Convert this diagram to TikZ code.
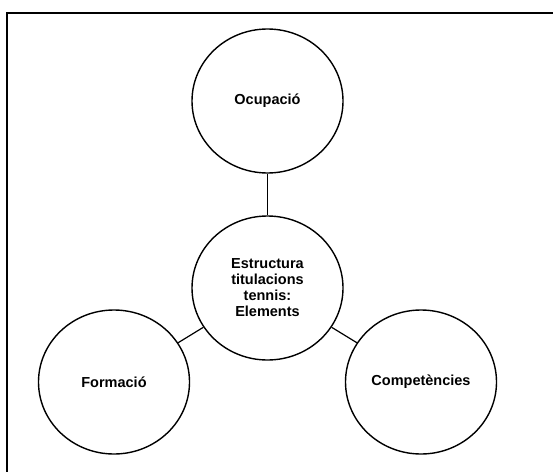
\documentclass[tikz,border=0pt]{standalone}
\usepackage{fontspec}
\setmainfont{Liberation Sans}
\usetikzlibrary{shapes.geometric}
\begin{document}
\begin{tikzpicture}[x=1pt,y=-1pt,
  bubble/.style={ellipse,draw=black,line width=1.4pt,minimum width=151pt,minimum height=144pt,inner sep=0pt,
    font=\fontsize{14.5pt}{16pt}\selectfont\bfseries,align=center},
  link/.style={draw=black,line width=1.2pt}]
  \useasboundingbox (0,0) rectangle (553,471);
  % outer frame
  \draw[line width=1.8pt] (7,13) rectangle (570,490);
  % concept bubbles
  \node[bubble] (top) at (267.5,101) {Ocupació};
  \node[bubble] (mid) at (267.5,288) {Estructura\\titulacions\\tennis:\\Elements};
  \node[bubble] (lft) at (114,382) {Formació};
  \node[bubble] (rgt) at (421,382) {Competències};
  % links to the centre
  \draw[link] (top) -- (mid);
  \draw[link] (mid) -- (lft);
  \draw[link] (mid) -- (rgt);
\end{tikzpicture}
\end{document}
